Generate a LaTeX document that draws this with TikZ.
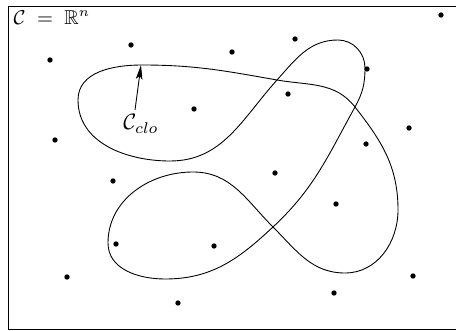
\documentclass[tikz,border=0pt]{standalone}
\usepackage{amssymb}
\usetikzlibrary{arrows.meta}

\begin{document}
\begin{tikzpicture}[x=0.45pt,y=-0.45pt]

		\useasboundingbox (0,0) rectangle (456,331);

		% Cadre
		\draw (8,6) -- (460,6);
		\draw (8,6) -- (8,329.5) -- (460,329.5);

		% Courbe
		\draw (142,65) to[out=0,in=170] (277,80)
			to[out=350,in=128] (355,107)
			to[out=308,in=90] (398,210)
			to[out=270,in=0] (345,273)
			to[out=180,in=315] (273,227)
			to[out=135,in=0] (193,172)
			to[out=180,in=90] (108,243)
			to[out=270,in=180] (165,279)
			to[out=0,in=223] (273,227)
			to[out=43,in=241] (355,107)
			to[out=61,in=270] (365,68)
			to[out=90,in=0] (338,40)
			to[out=180,in=48] (277,80)
			to[out=228,in=0] (170,161)
			to[out=180,in=270] (78,100)
			to[out=90,in=180] cycle;

		% Points
		\foreach \x/\y in {441/15, 131/45, 232/52, 295/39, 50/60, 367/69,
			194/109, 288/94, 409/128, 55/140, 366/144, 113/181, 275/173,
			336/204, 116/244, 214/246, 67/277, 413/276, 178/303, 334/293}
			\fill (\x,\y) circle (1.2pt);

		% Labels
		\node[anchor=north west,inner sep=1pt,font=\small] (espace) at (11,8) {$\mathcal{C}\;=\;\mathbb{R}^n$};
		\node (clo) at (141,124) {$\mathcal{C}_{clo}$};

		% Fleche
		\coordinate (queue) at (135,110);
		\coordinate (pointe) at (141,65);
		\draw[-{Stealth[length=6.5pt,width=3pt,inset=1.5pt]}] (queue) -- (pointe);

	\end{tikzpicture}
\end{document}
